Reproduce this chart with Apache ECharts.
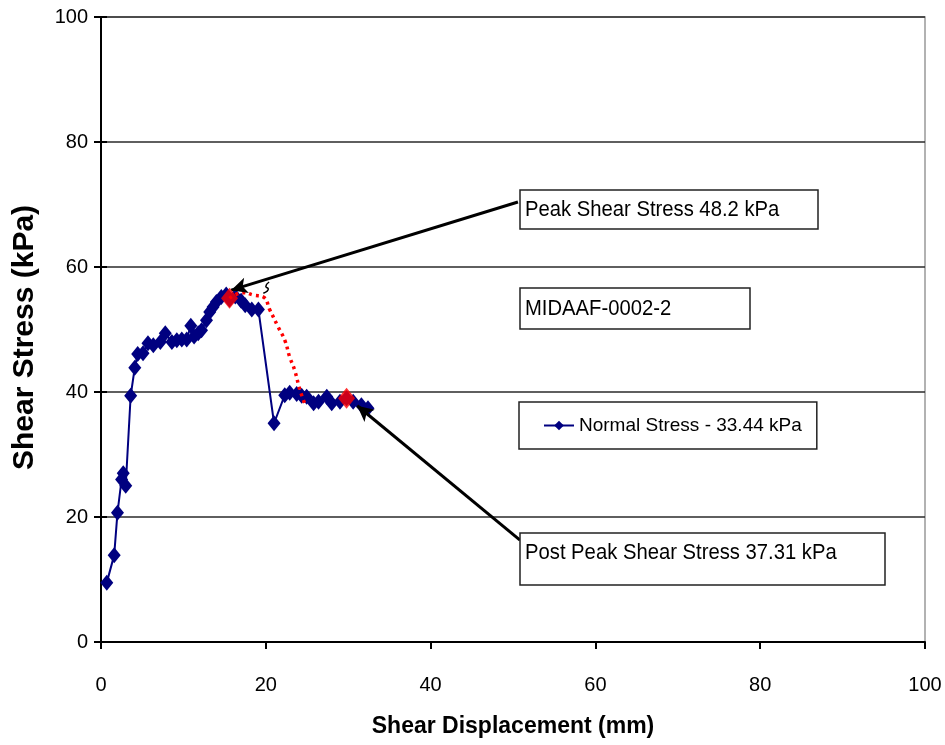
<!DOCTYPE html>
<html>
<head>
<meta charset="utf-8">
<script src="https://cdn.jsdelivr.net/npm/echarts@6/dist/echarts.min.js"></script>
<style>html,body{margin:0;padding:0;background:#fff}#c{width:945px;height:745px}</style>
</head>
<body>
<div id="c"></div>
<script>
// Main test series: Normal Stress - 33.44 kPa  [displacement (mm), shear stress (kPa)]
const normalStress = [
  [0.7,9.5],[1.6,13.9],[2.0,20.7],[2.5,26.0],[2.7,27.0],[3.0,25.0],[3.6,39.4],[4.1,43.9],
  [4.45,46.1],[5.1,46.2],[5.7,47.8],[6.35,47.5],[7.2,48.0],[7.8,49.4],[8.6,48.0],[9.2,48.3],
  [9.8,48.4],[10.4,48.4],[10.9,50.6],[11.3,48.9],[11.8,49.4],[12.2,49.9],[12.8,51.5],[13.2,52.8],
  [13.6,53.6],[14.0,54.4],[14.6,55.2],[15.2,55.6],[15.6,54.8],[16.3,55.3],[17.0,54.6],[17.5,53.9],
  [18.3,53.2],[19.1,53.2],[21.0,35.0],[22.3,39.5],[22.9,39.9],[23.75,39.7],[24.35,39.4],[24.96,39.25],
  [25.8,38.2],[26.4,38.45],[27.4,39.25],[28.0,38.2],[29.0,38.45],[29.8,39.0],[30.6,38.45],[31.6,37.9],
  [32.4,37.4]
];
// Highlighted peak / post-peak points
const keyPoints = [[15.6,55.0],[29.8,39.0]];
// Red dotted idealised curve
const idealCurve = [
  [15.6,55.0],[17.3,55.9],[18.5,55.5],[19.7,55.2],[20.5,53.1],[21.5,50.4],[22.3,48.3],
  [22.9,45.6],[23.5,43.5],[24.15,40.3],[24.8,37.9]
];
// Small leader squiggle
const squiggle = [[20.4,57.6],[20.0,56.9],[20.3,56.5],[19.7,55.8]];
// Annotation arrows: [start, end] in data coords
const peakArrow = [[50.6,70.4],[15.8,56.3]];
const postArrow = [[50.85,16.3],[31.1,37.8]];
const xTicks = {min:0, max:100, interval:20};
const yTicks = {min:0, max:100, interval:20};
const seriesName = 'Normal Stress - 33.44 kPa';
const peakLabel = 'Peak Shear Stress 48.2 kPa';
const sampleLabel = 'MIDAAF-0002-2';
const postLabel = 'Post Peak Shear Stress 37.31 kPa';

const FN = '"Liberation Sans", Arial, sans-serif';
const chart = echarts.init(document.getElementById('c'), null, {renderer:'canvas'});

function box(x, y, w, h, text, ty){
  return {type:'group', children:[
    {type:'rect', shape:{x:x, y:y, width:w, height:h}, style:{fill:'#fff', stroke:'#222', lineWidth:1.5}, z:100},
    {type:'text', x:x+5, y:ty, scaleX:0.92, style:{text:text, font:'22px ' + FN, fill:'#000', verticalAlign:'middle'}, z:101}
  ]};
}

chart.setOption({
  backgroundColor:'#fff',
  animation:false,
  grid:{left:101, right:20, top:17, bottom:103, show:true, borderColor:'#999', borderWidth:1.5,
        containLabel:false, outerBoundsMode:'none'},
  xAxis:{
    type:'value', min:xTicks.min, max:xTicks.max, interval:xTicks.interval,
    name:'Shear Displacement (mm)', nameLocation:'middle', nameGap:73,
    nameTextStyle:{fontFamily:FN, fontWeight:'bold', fontSize:23, color:'#000'},
    axisLine:{show:true, lineStyle:{color:'#000', width:2}},
    axisTick:{show:true, inside:false, length:7, lineStyle:{color:'#000', width:2}},
    axisLabel:{fontFamily:FN, fontSize:20, color:'#000', margin:33},
    splitLine:{show:false}
  },
  yAxis:[{
    type:'value', min:yTicks.min, max:yTicks.max, interval:yTicks.interval,
    name:'Shear Stress (kPa)', nameLocation:'middle', nameGap:61, nameRotate:90,
    nameTextStyle:{fontFamily:FN, fontWeight:'bold', fontSize:30, color:'#000', padding:[0,16,0,0]},
    axisLine:{show:true, lineStyle:{color:'#000', width:2}},
    axisTick:{show:true, inside:false, length:7, lineStyle:{color:'#000', width:2}},
    axisLabel:{fontFamily:FN, fontSize:20, color:'#000', margin:13},
    splitLine:{show:true, lineStyle:{color:'#2a2a2a', width:1.5}}
  },{
    type:'value', min:yTicks.min, max:yTicks.max, interval:yTicks.interval, position:'left',
    axisLine:{show:false}, axisLabel:{show:false}, splitLine:{show:false},
    axisTick:{show:true, inside:true, length:6, lineStyle:{color:'#000', width:2}}
  }],
  legend:{
    show:true, left:519, top:402, orient:'horizontal',
    data:[{name:seriesName}],
    backgroundColor:'#fff', borderColor:'#222', borderWidth:1.5, borderRadius:0,
    padding:[14, 15, 14, 24], itemWidth:30, itemHeight:12, itemGap:4,
    textStyle:{fontFamily:FN, fontSize:19, color:'#000'}
  },
  series:[
    {
      name:seriesName, type:'line', data:normalStress, z:3,
      lineStyle:{color:'#000080', width:2}, itemStyle:{color:'#000080'},
      symbol:'diamond', symbolSize:[13,16], showSymbol:true
    },
    {
      name:'ideal', type:'line', data:idealCurve, smooth:true, z:4,
      lineStyle:{color:'#ff0000', width:3.5, type:[3,4]}, symbol:'none'
    },
    {
      name:'keys', type:'scatter', data:keyPoints, z:5,
      symbol:'diamond', symbolSize:[17,21], itemStyle:{color:'#ff0000'}
    },
    {
      name:'squiggle', type:'line', data:squiggle, smooth:true, z:6,
      lineStyle:{color:'#000', width:1.5}, symbol:'none'
    },
    {
      name:'arrows', type:'line', data:[], z:7,
      markLine:{
        silent:true, symbol:['none','arrow'], symbolSize:[12,16],
        label:{show:false},
        lineStyle:{color:'#000', width:3, type:'solid'},
        data:[
          [{coord:peakArrow[0]},{coord:peakArrow[1]}],
          [{coord:postArrow[0]},{coord:postArrow[1]}]
        ]
      }
    }
  ],
  graphic:[
    box(520, 190, 298, 39, peakLabel, 210),
    box(520, 288, 230, 41, sampleLabel, 309),
    box(520, 533, 365, 52, postLabel, 553)
  ]
});
</script>
</body>
</html>
